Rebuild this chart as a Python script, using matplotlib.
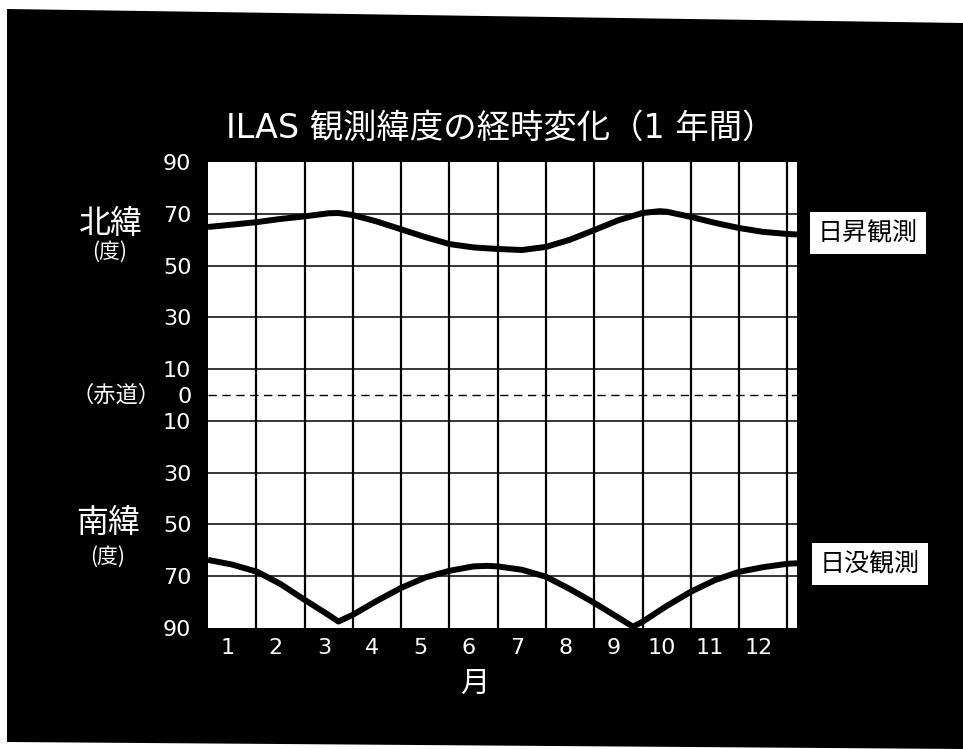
import matplotlib
matplotlib.use("Agg")
import matplotlib.pyplot as plt
from matplotlib.patches import Polygon

# ---- data ----
months = [1, 2, 3, 4, 5, 6, 7, 8, 9, 10, 11, 12]
month_labels = [str(m) for m in months]
lat_ticks = [90, 70, 50, 30, 10, 0, -10, -30, -50, -70, -90]
lat_labels = [str(abs(v)) for v in lat_ticks]

# sunrise (北) observation latitude
sr_x = [0.0, 0.5, 1.02, 1.5, 2.0, 2.5, 2.7, 3.0, 3.5, 4.0, 4.5, 5.0, 5.5, 6.0,
        6.5, 7.0, 7.5, 8.0, 8.5, 9.0, 9.35, 9.5, 10.0, 10.5, 11.0, 11.5, 12.0, 12.2]
sr_lat = [64.9, 65.8, 66.8, 68.0, 69.0, 70.2, 70.3, 69.5, 67.0, 64.0, 61.0, 58.3, 57.0, 56.4,
          56.0, 57.2, 60.0, 63.7, 67.5, 70.3, 71.0, 70.8, 68.8, 66.5, 64.5, 63.0, 62.2, 62.0]

# sunset (南) observation latitude
ss_x = [0.0, 0.5, 1.02, 1.5, 2.0, 2.5, 2.7, 3.0, 3.5, 4.0, 4.5, 5.0, 5.5, 5.8, 6.0,
        6.5, 7.0, 7.5, 8.0, 8.5, 8.8, 9.0, 9.5, 10.0, 10.5, 11.0, 11.5, 12.0, 12.2]
ss_lat = [-63.7, -65.5, -68.3, -73.0, -79.1, -85.0, -87.5, -84.9, -79.5, -74.5, -70.5, -67.9, -66.2, -66.0, -66.2,
          -67.5, -70.2, -75.0, -80.3, -86.0, -89.5, -87.6, -81.5, -76.0, -71.5, -68.3, -66.5, -65.2, -65.0]

W, H = 963, 749
fig = plt.figure(figsize=(W / 100, H / 100), dpi=100)
fig.patch.set_facecolor("white")

def fx(px):
    return px / W

def fy(py):
    return 1 - py / H

# black background (slightly skewed scan)
bg = Polygon([(fx(7), fy(9)), (fx(963), fy(23)), (fx(963), fy(749)), (fx(7), fy(742))],
             closed=True, transform=fig.transFigure, facecolor="black", edgecolor="none", zorder=-5)
fig.patches.append(bg)

fam = ["DejaVu Sans", "Noto Sans CJK JP"]
cjk = ["Noto Sans CJK JP", "DejaVu Sans"]

ax = fig.add_axes([fx(208), fy(628), fx(797) - fx(208), fy(162) - fy(628)])
ax.set_zorder(5)
ax.set_facecolor("white")
ax.set_xlim(0, 12.2)
ax.set_ylim(-90, 90)
for s in ax.spines.values():
    s.set_visible(False)

# grid
for m in months:
    ax.axvline(m, color="black", lw=1.6, zorder=1)
for v in lat_ticks:
    if v in (90, -90):
        continue
    if v == 0:
        ax.axhline(v, color="black", lw=1.0, ls=(0, (6, 4)), zorder=1)
    else:
        ax.axhline(v, color="black", lw=1.1, zorder=1)

ax.plot(sr_x, sr_lat, color="black", lw=4.3, solid_capstyle="butt", solid_joinstyle="round", zorder=3)
ax.plot(ss_x, ss_lat, color="black", lw=4.3, solid_capstyle="butt", solid_joinstyle="round", zorder=3)

ax.set_yticks(lat_ticks)
ax.set_yticklabels(lat_labels, family=fam, fontsize=16, color="white")
ax.set_xticks([m - 0.6 for m in months])
ax.set_xticklabels(month_labels, family=fam, fontsize=16, color="white")
ax.tick_params(axis="both", length=0)
ax.tick_params(axis="y", pad=12)
ax.tick_params(axis="x", pad=7)

# texts
fig.text(fx(501), fy(128), "ILAS 観測緯度の経時変化（1 年間）", family=fam, fontsize=24,
         color="white", ha="center", va="center")
fig.text(fx(475), fy(684), "月", family=cjk, fontsize=21, color="white", ha="center", va="center")

fig.text(fx(111), fy(224), "北緯", family=cjk, fontsize=23, color="white", ha="center", va="center")
fig.text(fx(110), fy(252), "(度)", family=cjk, fontsize=15, color="white", ha="center", va="center")
fig.text(fx(116), fy(395), "（赤道）", family=cjk, fontsize=16, color="white", ha="center", va="center")
fig.text(fx(108), fy(523), "南緯", family=cjk, fontsize=23, color="white", ha="center", va="center")
fig.text(fx(108), fy(557), "(度)", family=cjk, fontsize=15, color="white", ha="center", va="center")

box = dict(boxstyle="square,pad=0.32", facecolor="white", edgecolor="none")
fig.text(fx(868), fy(233), "日昇観測", family=cjk, fontsize=18, color="black",
         ha="center", va="center", bbox=box)
fig.text(fx(870), fy(564), "日没観測", family=cjk, fontsize=18, color="black",
         ha="center", va="center", bbox=box)

fig.savefig("out.png", dpi=100, facecolor=fig.get_facecolor())
